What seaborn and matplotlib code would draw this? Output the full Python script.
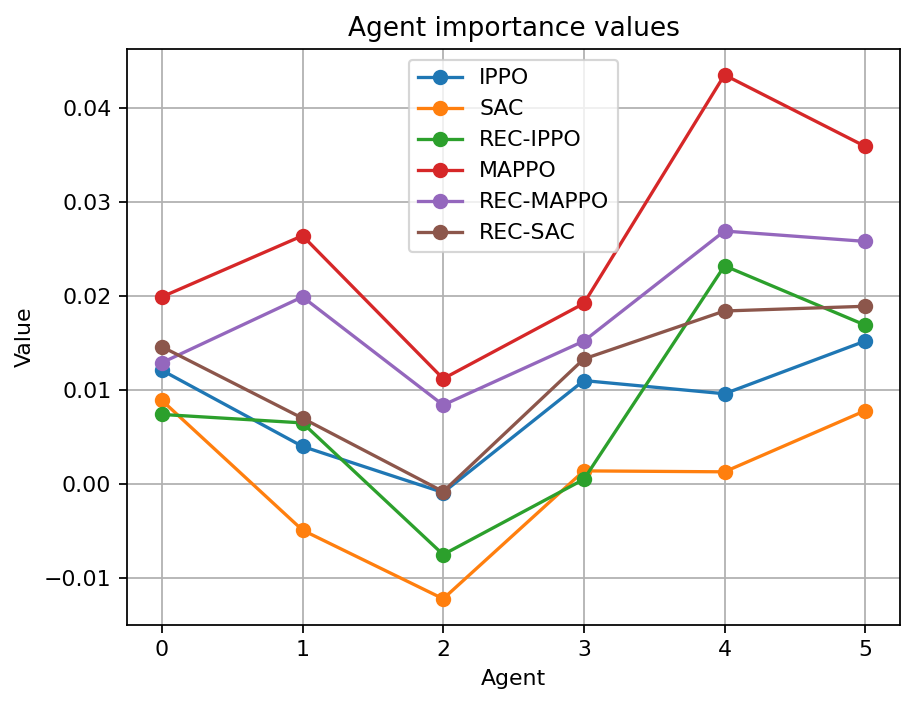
import matplotlib
matplotlib.use("Agg")
import matplotlib.pyplot as plt
import seaborn as sns

agents = [0, 1, 2, 3, 4, 5]
ippo = [0.0121, 0.0040, -0.0009, 0.0110, 0.0096, 0.0152]
sac = [0.0089, -0.0049, -0.0122, 0.0014, 0.0013, 0.0078]
rec_ippo = [0.0074, 0.0065, -0.0075, 0.0005, 0.0232, 0.0169]
mappo = [0.0199, 0.0264, 0.0112, 0.0192, 0.0435, 0.0359]
rec_mappo = [0.0129, 0.0199, 0.0084, 0.0152, 0.0269, 0.0258]
rec_sac = [0.0146, 0.0070, -0.0008, 0.0133, 0.0184, 0.0189]

series = {
    "IPPO": ippo,
    "SAC": sac,
    "REC-IPPO": rec_ippo,
    "MAPPO": mappo,
    "REC-MAPPO": rec_mappo,
    "REC-SAC": rec_sac,
}

dpi = 158
fig, ax = plt.subplots(figsize=(916 / dpi, 707 / dpi), dpi=dpi)
fig.subplots_adjust(left=0.1383, right=0.9829, top=0.9311, bottom=0.116)

colors = sns.color_palette("tab10")
for i, (name, vals) in enumerate(series.items()):
    c = colors[i]
    sns.lineplot(x=agents, y=vals, ax=ax, label=name, color=c, marker="o",
                 markersize=6, markeredgecolor=c, markeredgewidth=1, linewidth=1.5)

ax.set_title("Agent importance values")
ax.set_xlabel("Agent")
ax.set_ylabel("Value")
ax.grid(True)
ax.legend(loc="upper center")

plt.savefig("out.png", dpi=dpi)
